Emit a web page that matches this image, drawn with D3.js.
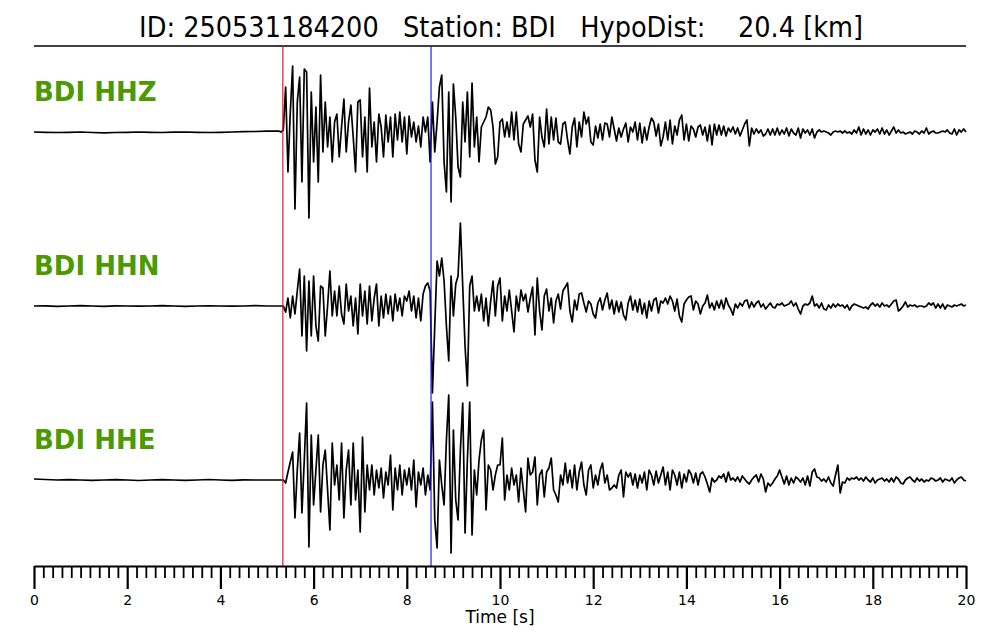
<!DOCTYPE html>
<html><head><meta charset="utf-8">
<script src="https://cdn.jsdelivr.net/npm/d3@7"></script>
<style>body{margin:0;background:#fff} svg{display:block;font-family:"DejaVu Sans",sans-serif}</style>
</head><body><svg id="c" width="1000" height="640"></svg>
<script>
const titleText = "ID: 250531184200   Station: BDI   HypoDist:    20.4 [km]";
const channels = ["BDI HHZ", "BDI HHN", "BDI HHE"];
const pickP = 5.34, pickS = 8.52;
const preStep = 0.25, waveStart = 5.30, waveStep = 0.05;
const majorTicks = [0, 2, 4, 6, 8, 10, 12, 14, 16, 18, 20];
const minorStep = 0.2;
const xLabel = "Time [s]";

const hhzPre = [0,-0.3,-0.5,-0.3,0,-0.5,-0.8,-0.5,-0.3,0,-0.3,-0.5,-0.2,0,-0.3,-0.5,-0.3,0,0.3,0.5,0.8,1];
const hhzWave = [
0,2,45,-40,20,66,-77,30,55,-50, 63,60,-86,40,-30,25,-50,57,-20,30,
-15,15,-30,10,18,-25,5,33,-20,10, 27,-5,-40,30,32,-25,15,-40,44,-15,
10,-30,18,5,-25,17,-10,15,-25,18, -8,20,-10,15,-22,16,-5,10,-10,6,
-15,15,0,15,-30,30,-20,10,45,57, -30,-60,40,-70,48,15,-35,-45,30,-10,
40,-25,49,-15,15,-30,5,10,15,25, 22,5,-32,-25,10,13,-5,10,
-5,20,-8,20,-12,-20,8,12,16,5, 18,-28,-40,15,-5,-15,23,-12,15,-8,
14,-10,-12,8,10,-8,-22,5,14,-15, 10,-5,20,8,15,-10,-13,6,-6,8,
-8,9,8,-5,15,3,-9,4,-5,3, 9,-10,5,0,10,-8,9,-11,5,-8,
5,14,10,-4,8,-14,-5,10,-8,12, -12,6,-3,12,17,-8,8,-9,6,3,
-5,5,7,-3,5,-9,7,-13,8,-3, 7,-3,6,-4,4,0,5,-2,4,-4,
2,8,12,-14,4,-2,3,-1,2,-4, -2,3,-3,3,-3,4,-3,2,-2,4,
-4,3,-1,-3,4,-6,3,-1,2,-3, 3,-6,0,2,0,1,0,-1,-3,0,
1,0,1,-1,1,-1,0,-2,2,-1, 5,-3,3,-2,2,-3,2,0,3,-2,
4,-2,2,-3,1,5,-1,2,-1,0, -2,-1,0,-2,1,0,-2,1,-1,4,
-2,0,1,-1,-1,0,1,0,2,-1, -2,3,-3,2,0,3,0];

const hhnPre = [0,0.2,-0.3,0,0.3,0,-0.3,0.2,0,-0.2,0,0.3,0,-0.3,0,0.2,0,-0.2,0,0.3,0,0];
const hhnWave = [
0,0,-6,8,-12,10,-8,15,37,-30, 30,-45,25,-30,30,-20,-35,20,18,-30,
0,35,-10,15,-10,20,-8,-18,22,-5, 10,-20,8,-28,22,-10,15,-18,20,-15,
8,22,-20,10,-12,12,-8,10,-15,12, -5,8,-10,10,5,15,-5,10,-12,8,
-15,12,20,23,15,-87,-20,45,30,48, 25,-20,-55,30,-10,22,30,83,20,-40,
-80,20,30,-5,10,-5,12,-15,8,-20, 5,25,-10,20,28,-15,10,-5,
16,-5,-26,10,-5,16,5,12,-6,8, 19,-29,28,-5,-24,10,17,-5,8,-17,
5,12,-3,15,19,23,-5,-16,6,-4, 12,13,3,-6,5,2,-8,-12,3,8,
-4,6,13,-3,6,-8,5,-6,4,-9, -14,3,10,-4,6,-6,7,-8,3,-12,
5,-5,6,8,-7,5,3,8,2,10, 5,-5,7,-10,-16,2,6,9,10,-4,
5,2,-8,0,3,11,-2,3,-4,5, -2,6,-3,8,1,-3,-9,2,-2,3,
0,5,6,-2,4,-1,3,5,-1,2, -3,0,3,-1,-2,2,1,3,0,1,
2,5,0,3,-3,-8,0,2,1,3, 10,0,2,-2,3,-3,-4,1,-2,2,
-1,2,0,1,-2,1,-4,0,2,1, 0,-1,-2,-1,-3,1,3,0,2,-1,
3,0,1,-1,2,5,6,-5,-3,0, 4,-1,1,0,1,-1,0,0,-1,0,
3,1,3,-2,2,-2,2,-3,1,0, -1,1,0,1,2,0,1];

const hhePre = [1,0.5,0,0.3,0,-0.3,0,0.3,0,-0.5,0,0.3,0,-0.3,0,0.5,0,-0.3,0.2,0,0,0];
const hheWave = [
0,0,-3,8,18,28,-38,10,47,-33, 20,77,-67,45,-25,10,45,-32,15,30,
-10,-50,37,-5,15,-20,37,-38,10,30, -25,37,-20,10,-52,43,-32,15,-10,15,
-15,10,-8,12,-18,8,-5,25,-30,12, -10,15,-15,10,-5,12,-10,20,-27,8,
-5,12,-15,5,-10,78,-40,-68,20,-5, -25,40,85,-73,50,-20,-40,30,77,-53,
20,78,-55,10,-15,20,40,50,-30,15, 10,-10,5,15,15,42,-20,5,
-10,12,-5,5,-22,12,-10,-32,22,5, 8,23,-25,5,10,-17,8,12,22,-10,
-15,-22,5,-5,17,-3,10,-8,15,-10, 8,18,-5,-15,10,15,-8,5,-5,10,
17,-3,5,-10,-8,-5,-8,5,10,-17, 8,3,7,-5,6,-8,5,-3,8,-10,
10,5,-5,9,-3,5,13,-5,8,-10, 10,5,-5,8,-8,6,-2,10,6,-3,
7,-5,6,8,3,-4,-12,2,-2,0, 4,2,6,-2,8,0,2,-1,3,-2,
4,1,-2,-4,0,3,5,-2,6,1, -12,-3,-6,-3,1,4,10,3,-4,4,
-5,2,-3,3,1,-2,2,-5,4,-6, 8,11,3,2,-1,1,-2,3,-3,-6,
5,15,-13,-2,-3,2,0,2,1,3, 0,2,-1,3,0,-2,2,-3,0,1,
2,-1,1,-2,2,-2,3,1,-3,-4, 0,2,3,0,-2,2,-1,1,-2,0,
-1,2,1,-1,0,2,-2,1,0,-1, 2,-3,0,2,3,0,-1];

const traces = [
  {name: channels[0], pre: hhzPre, wave: hhzWave},
  {name: channels[1], pre: hhnPre, wave: hhnWave},
  {name: channels[2], pre: hhePre, wave: hheWave}
];

const svg = d3.select("#c");
const x = d3.scaleLinear().domain([0, 20]).range([34, 966]);
const band = d3.scaleBand().domain(channels).range([45, 567]);
const half = band.bandwidth() / 2;
const amp = d3.scaleLinear().domain([-half, half]).range([half, -half]);

// title (condensed look: horizontally compressed DejaVu Sans)
svg.append("text").attr("transform", "translate(501,37) scale(0.915,1)").attr("text-anchor", "middle")
  .style("font-size", "28px").style("white-space", "pre").attr("fill", "#000").text(titleText);
svg.append("line").attr("x1", x(0)).attr("x2", x(20)).attr("y1", 46).attr("y2", 46)
  .attr("stroke", "#000").attr("stroke-width", 1.6);

const line = d3.line().x(d => x(d[0])).y(d => d[1]);

traces.forEach(tr => {
  const base = band(tr.name) + half;
  const pts = [];
  tr.pre.forEach((v, i) => pts.push([i * preStep, base + amp(v)]));
  tr.wave.forEach((v, i) => pts.push([waveStart + i * waveStep, base + amp(v)]));
  svg.append("path").datum(pts).attr("d", line).attr("fill", "none")
    .attr("stroke", "#000").attr("stroke-width", 1.7).attr("stroke-linejoin", "round");
  svg.append("text").attr("x", x(0)).attr("y", base - 31)
    .style("font-size", "26px").style("font-weight", "bold").attr("fill", "#4d9a00").text(tr.name);
});

// picks
[[pickP, "#e8191b"], [pickS, "#1d1df0"]].forEach(([t, c]) => {
  svg.append("line").attr("x1", x(t)).attr("x2", x(t)).attr("y1", 46).attr("y2", 566)
    .attr("stroke", c).attr("stroke-width", 1.2);
});

// axis
const minorTicks = d3.range(0, 100 + 1).map(i => +(i * minorStep).toFixed(1)).filter(v => v % 2 !== 0);
const gMinor = svg.append("g").attr("transform", "translate(0,566)")
  .call(d3.axisBottom(x).tickValues(minorTicks).tickSize(12).tickSizeOuter(0).tickFormat(""));
gMinor.select(".domain").remove();
gMinor.selectAll(".tick line").attr("stroke-width", 1.8);
const gMajor = svg.append("g").attr("transform", "translate(0,566)")
  .call(d3.axisBottom(x).tickValues(majorTicks).tickSize(23).tickSizeOuter(0).tickPadding(6).tickFormat(d3.format("d")));
gMajor.select(".domain").attr("stroke-width", 2);
gMajor.selectAll(".tick line").attr("stroke-width", 2.2);
gMajor.selectAll(".tick text").style("font-size", "14px").style("font-family", "DejaVu Sans").attr("fill", "#000");
svg.append("text").attr("x", 500).attr("y", 623).attr("text-anchor", "middle")
  .style("font-size", "17px").attr("fill", "#000").text(xLabel);
</script></body></html>
